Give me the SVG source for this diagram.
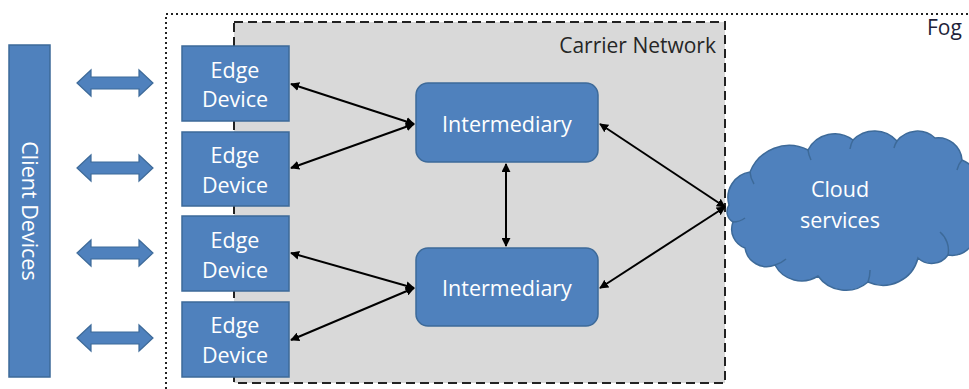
<svg xmlns="http://www.w3.org/2000/svg" width="969" height="389" viewBox="0 0 969 389">
<style>
.box{fill:#4f81bd;stroke:#3d6a99;stroke-width:1.5}
.lbl{font-family:"Open Sans","Liberation Sans",sans-serif;font-size:21.5px;fill:#ffffff;text-anchor:middle}
.con{stroke:#000;stroke-width:2;fill:none;marker-start:url(#ah);marker-end:url(#ah)}
.dbl{fill:#4f81bd;stroke:#3d6a99;stroke-width:1.2}
.ttl{font-family:"Open Sans","Liberation Sans",sans-serif;font-size:21px}
</style>
<defs>
<marker id="ah" viewBox="0 0 10 10" refX="9" refY="5" markerWidth="4.5" markerHeight="4.5" orient="auto-start-reverse" markerUnits="strokeWidth">
<path d="M0,0 L10,5 L0,10 z" fill="#000"/>
</marker>
</defs>
<rect width="969" height="389" fill="#ffffff"/>
<g id="fog">
<path d="M166,389 L166,14 L975,14" fill="none" stroke="#222" stroke-width="2" stroke-dasharray="2,3"/>
<text class="ttl" x="927" y="35" fill="#1f1f3a">Fog</text>
</g>
<g id="carrier">
<rect x="234" y="22" width="491" height="361" fill="#d9d9d9" stroke="#222" stroke-width="2" stroke-dasharray="9,5"/>
<text class="ttl" x="716" y="53" text-anchor="end" fill="#262626">Carrier Network</text>
</g>
<g id="client">
<rect class="box" x="9" y="45" width="41" height="332"/>
<text class="lbl" transform="translate(30,211) rotate(90)" y="8">Client Devices</text>
</g>
<g id="links">
<polygon class="dbl" points="77,83 91,70 91,77 139,77 139,70 153,83 139,96 139,89 91,89 91,96"/>
<polygon class="dbl" points="77,168 91,155 91,162 139,162 139,155 153,168 139,181 139,174 91,174 91,181"/>
<polygon class="dbl" points="77,253 91,240 91,247 139,247 139,240 153,253 139,266 139,259 91,259 91,266"/>
<polygon class="dbl" points="77,338 91,325 91,332 139,332 139,325 153,338 139,351 139,344 91,344 91,351"/>
</g>
<g id="edge1"><rect class="box" x="182" y="46" width="107" height="75"/><text class="lbl" x="235" y="78">Edge</text><text class="lbl" x="235" y="107">Device</text></g>
<g id="edge2"><rect class="box" x="182" y="132" width="107" height="74"/><text class="lbl" x="235" y="163">Edge</text><text class="lbl" x="235" y="193">Device</text></g>
<g id="edge3"><rect class="box" x="182" y="216" width="107" height="75"/><text class="lbl" x="235" y="248">Edge</text><text class="lbl" x="235" y="278">Device</text></g>
<g id="edge4"><rect class="box" x="182" y="302" width="107" height="75"/><text class="lbl" x="235" y="333">Edge</text><text class="lbl" x="235" y="363">Device</text></g>
<g id="int1"><rect class="box" x="416" y="83" width="182" height="79" rx="12"/><text class="lbl" x="507" y="132">Intermediary</text></g>
<g id="int2"><rect class="box" x="416" y="248" width="182" height="78" rx="12"/><text class="lbl" x="507" y="296">Intermediary</text></g>
<g id="cloud">
<path class="box" d="M729,205 A26,26 0 0 1 750,172 A42,42 0 0 1 808,150 A30,30 0 0 1 853,140 A30,30 0 0 1 897,141 A26,26 0 0 1 935,138 A24,24 0 0 1 962,160 A26,26 0 0 1 976,195 L976,232 A24,24 0 0 1 948,255 A20,20 0 0 1 918,258 A36,36 0 0 1 868,282 A34,34 0 0 1 818,276 A30,30 0 0 1 775,265 A22,22 0 0 1 745,248 A20,20 0 0 1 733,222 A12,12 0 0 1 729,205 Z"/>
<path d="M750,172 A26,26 0 0 0 754,184 M808,150 A30,30 0 0 0 811,160 M853,140 A26,26 0 0 0 850,149 M897,141 A24,24 0 0 0 894,148 M962,160 A22,22 0 0 0 957,170 M948,255 A24,24 0 0 0 940,232 M868,282 A34,34 0 0 0 870,270 M775,265 A28,28 0 0 0 786,259 M733,222 A20,20 0 0 0 745,218" fill="none" stroke="#3d6a99" stroke-width="1.5"/>
<text class="lbl" x="840" y="197">Cloud</text>
<text class="lbl" x="840" y="228">services</text>
</g>
<g id="connectors">
<line class="con" x1="291" y1="84" x2="414" y2="124"/>
<line class="con" x1="291" y1="168" x2="414" y2="124"/>
<line class="con" x1="291" y1="253" x2="414" y2="288"/>
<line class="con" x1="291" y1="340" x2="414" y2="288"/>
<line class="con" x1="506" y1="164" x2="506" y2="246"/>
<line class="con" x1="600" y1="124" x2="725" y2="207"/>
<line class="con" x1="600" y1="288" x2="725" y2="207"/>
</g>
</svg>
